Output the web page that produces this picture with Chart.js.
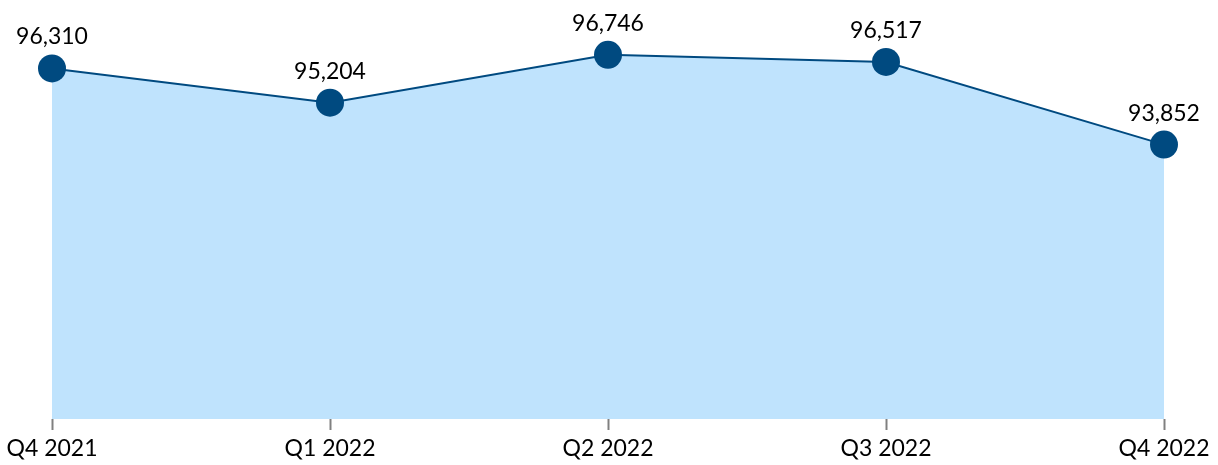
<!DOCTYPE html>
<html>
<head>
<meta charset="utf-8">
<script src="https://cdn.jsdelivr.net/npm/chart.js@4.4.0/dist/chart.umd.min.js"></script>
<style>
  html, body { margin: 0; padding: 0; background: #fff; }
  #wrap { width: 1218px; height: 465px; position: relative; }
</style>
</head>
<body>
<div id="wrap"><canvas id="grafico"></canvas></div>
<script>
// datos del grafico
const trimestres = ['Q4 2021', 'Q1 2022', 'Q2 2022', 'Q3 2022', 'Q4 2022'];
const valores = [96310, 95204, 96746, 96517, 93852];
const yMin = 85000;
const yMax = 98000;

const fuente = 'Lato, "Open Sans", sans-serif';

// etiquetas de valor encima de cada punto
const etiquetasPlugin = {
  id: 'etiquetas',
  afterDatasetsDraw(chart) {
    const ctx = chart.ctx;
    const meta = chart.getDatasetMeta(0);
    ctx.save();
    ctx.font = '23px ' + fuente;
    ctx.fillStyle = '#000';
    ctx.textAlign = 'center';
    ctx.textBaseline = 'alphabetic';
    meta.data.forEach((p, i) => {
      ctx.fillText(valores[i].toLocaleString('en-US'), p.x, p.y - 24);
    });
    ctx.restore();
  }
};

const ctx = document.getElementById('grafico');
new Chart(ctx, {
  type: 'line',
  data: {
    labels: trimestres,
    datasets: [{
      data: valores,
      borderColor: '#004a80',
      borderWidth: 2,
      backgroundColor: '#bfe3fd',
      fill: 'start',
      tension: 0,
      pointRadius: 14,
      pointBackgroundColor: '#004a80',
      pointBorderWidth: 0,
      clip: false
    }]
  },
  options: {
    responsive: true,
    maintainAspectRatio: false,
    animation: false,
    layout: {
      padding: { left: 52, right: 54, top: 16, bottom: 0 }
    },
    plugins: {
      legend: { display: false },
      tooltip: { enabled: false }
    },
    scales: {
      x: {
        offset: false,
        border: { display: false },
        grid: {
          display: true,
          drawOnChartArea: false,
          drawTicks: true,
          tickLength: 11,
          tickWidth: 2,
          tickColor: '#808080'
        },
        ticks: {
          color: '#000',
          padding: 5,
          maxRotation: 0,
          autoSkip: false,
          font: { family: fuente, size: 23 }
        },
        afterFit(scale) {
          scale.paddingLeft = 0;
          scale.paddingRight = 0;
          scale.height = 46;
        }
      },
      y: {
        display: false,
        min: yMin,
        max: yMax
      }
    }
  },
  plugins: [etiquetasPlugin]
});
</script>
</body>
</html>
